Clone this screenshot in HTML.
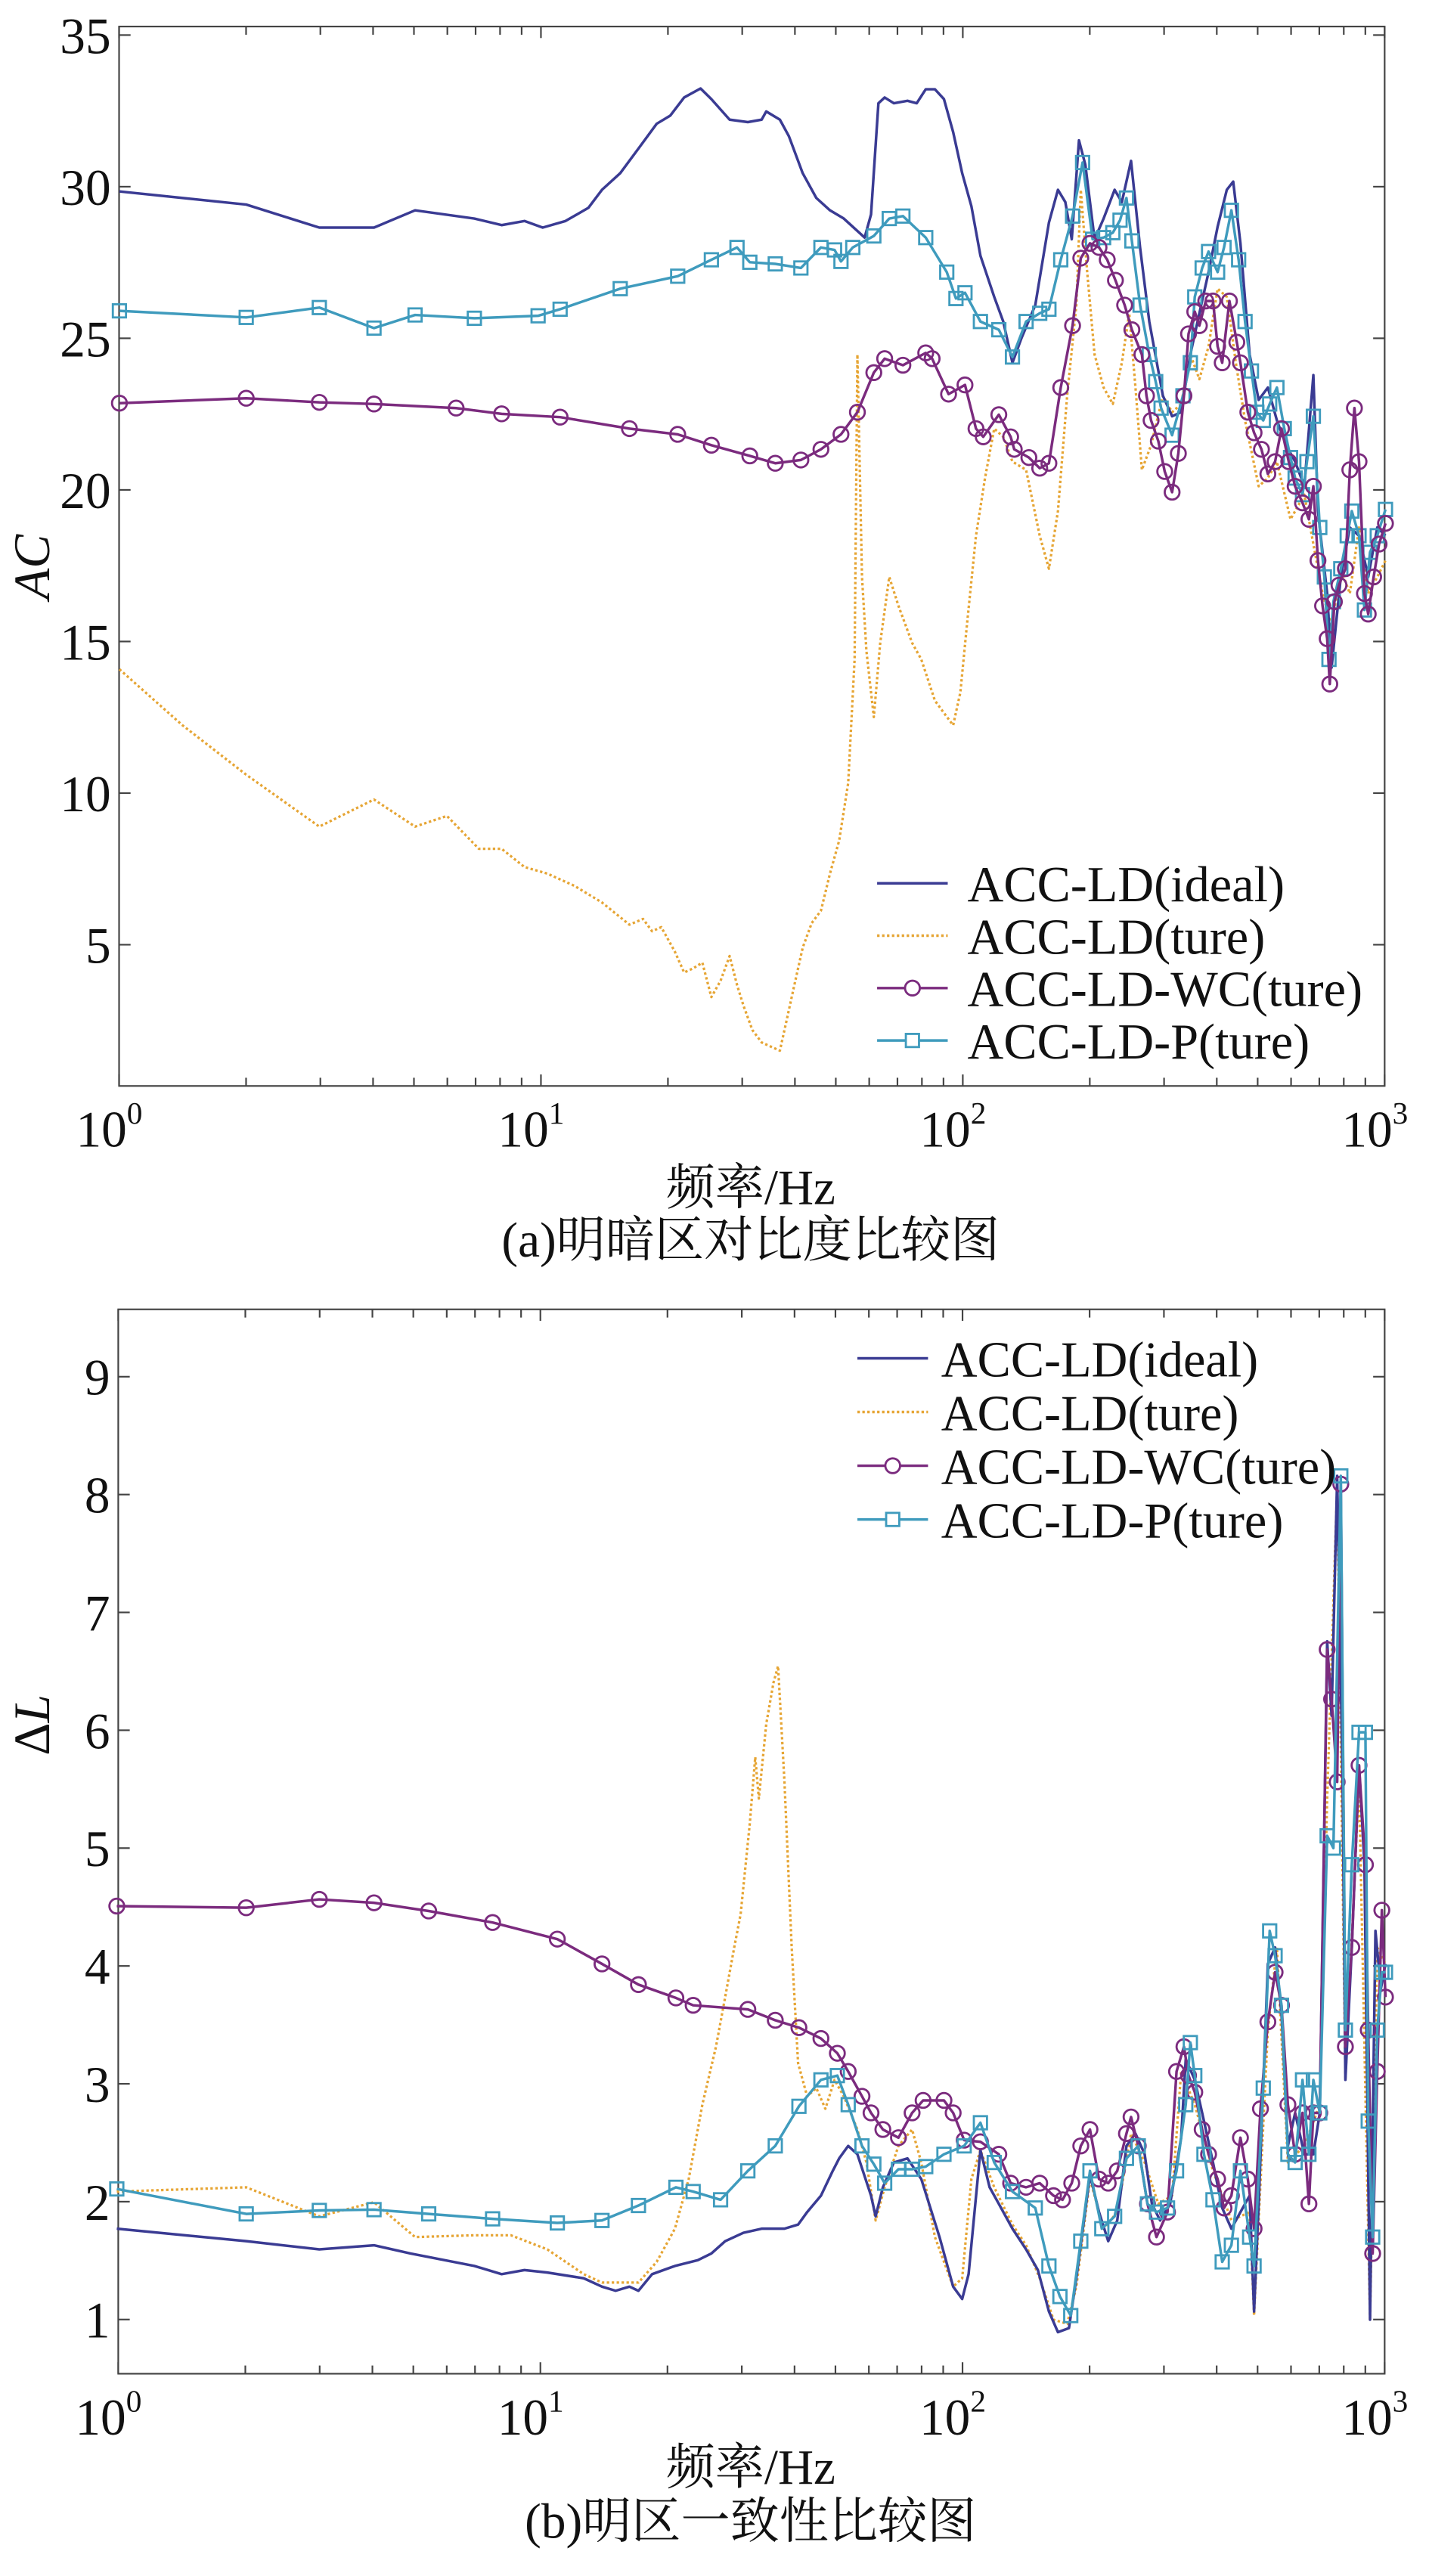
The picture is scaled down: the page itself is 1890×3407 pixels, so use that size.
<!DOCTYPE html>
<html><head><meta charset="utf-8"><style>
html,body{margin:0;padding:0;background:#fff;}
svg{display:block;}
text{font-family:"Liberation Serif","Noto Serif CJK SC",serif;fill:#111;}
</style></head><body>
<svg id="s" width="1890" height="3407" viewBox="0 0 870 1568" xmlns="http://www.w3.org/2000/svg">
<rect width="870" height="1568" fill="#fff"/>
<g id="g"></g>
<text x="30" y="345" font-size="31" font-style="italic" text-anchor="middle" transform="rotate(-90 30 345)">AC</text>
<text x="30" y="1050" font-size="31" text-anchor="middle" transform="rotate(-90 30 1050)">Δ<tspan font-style="italic">L</tspan></text>
<text x="457" y="733" font-size="30" text-anchor="middle">频率/Hz</text>
<text x="457" y="765" font-size="30" text-anchor="middle">(a)明暗区对比度比较图</text>
<text x="457" y="1512" font-size="30" text-anchor="middle">频率/Hz</text>
<text x="457" y="1545" font-size="30" text-anchor="middle">(b)明区一致性比较图</text>
</svg>
<script>
const NS="http://www.w3.org/2000/svg",G=document.getElementById('g');
function el(t,a,txt){const e=document.createElementNS(NS,t);for(const k in a)e.setAttribute(k,a[k]);if(txt!==undefined)e.textContent=txt;G.appendChild(e);return e;}
const C={ideal:"#3a3b93",ture:"#e6a534",wc:"#7b2b7e",p:"#3f9bbd"};
function axes(L,R,T,B,yt){
 el('rect',{x:L,y:T,width:R-L,height:B-T,fill:'none',stroke:'#444',"stroke-width":1});
 const dec=(R-L)/3;
 for(let d=0;d<=3;d++){
  const x=L+d*dec;
  el('line',{x1:x,y1:B,x2:x,y2:B-7,stroke:'#444','stroke-width':1});
  el('line',{x1:x,y1:T,x2:x,y2:T+7,stroke:'#444','stroke-width':1});
  const t=el('text',{x:x-6,y:B+37,'font-size':31,'text-anchor':'middle'},'10');
  const sp=document.createElementNS(NS,'tspan');sp.setAttribute('dy','-14');sp.setAttribute('font-size','19');sp.textContent=d;t.appendChild(sp);
  if(d<3)for(let m=2;m<10;m++){const xm=x+Math.log10(m)*dec;
   el('line',{x1:xm,y1:B,x2:xm,y2:B-5,stroke:'#444','stroke-width':1});
   el('line',{x1:xm,y1:T,x2:xm,y2:T+5,stroke:'#444','stroke-width':1});}
 }
 yt.forEach(([v,y])=>{
  el('line',{x1:L,y1:y,x2:L+7,y2:y,stroke:'#444','stroke-width':1});
  el('line',{x1:R,y1:y,x2:R-7,y2:y,stroke:'#444','stroke-width':1});
  el('text',{x:L-5,y:y+11,'font-size':31,'text-anchor':'end'},v);
 });
}
function pts(a,bot){const r=[];for(let i=0;i<a.length;i+=2){const x=a[i]*0.5553;const y=bot?782.5+a[i+1]*0.5037:a[i+1]*0.5016;r.push([+x.toFixed(1),+y.toFixed(1)]);}return r;}
function series(a,bot,col,dash,mk){
 const p=pts(a,bot);
 const at={points:p.map(q=>q.join(',')).join(' '),fill:'none',stroke:col,'stroke-width':dash?1.5:1.6,'stroke-linejoin':'round'};
 if(dash)at['stroke-dasharray']='1.5,1.5';
 el('polyline',at);
 if(mk)p.forEach((q,i)=>{
  if(mk=='o')el('circle',{cx:q[0],cy:q[1],r:4.5,fill:'none',stroke:col,'stroke-width':1.3});
  else el('rect',{x:q[0]-4,y:q[1]-4,width:8,height:8,fill:'none',stroke:col,'stroke-width':1.3});});
}
function legend(lx1,lx2,tx,rows){
 const n=[["ACC-LD(ideal)",C.ideal,0,null],["ACC-LD(ture)",C.ture,1,null],["ACC-LD-WC(ture)",C.wc,0,'o'],["ACC-LD-P(ture)",C.p,0,'s']];
 n.forEach((s,i)=>{const y=rows[i];
  const a={x1:lx1,y1:y,x2:lx2,y2:y,stroke:s[1],'stroke-width':s[2]?1.6:1.6};if(s[2])a['stroke-dasharray']='1.5,1.5';el('line',a);
  const cx=(lx1+lx2)/2;
  if(s[3]=='o')el('circle',{cx:cx,cy:y,r:4.5,fill:'#fff',stroke:s[1],'stroke-width':1.3});
  if(s[3]=='s')el('rect',{x:cx-4,y:y-4,width:8,height:8,fill:'#fff',stroke:s[1],'stroke-width':1.3});
  el('text',{x:tx,y:y+11,'font-size':30.5},s[0]);});
}
// top plot
const yT=v=>21.2+(35-v)*18.46;
axes(72.5,843,16,661,[35,30,25,20,15,10,5].map(v=>[v,yT(v)]));
series([131,812,200,880,270,940,350,1003,410,970,455,1003,490,990,525,1030,550,1030,575,1052,600,1060,630,1075,660,1095,690,1122,705,1115,715,1130,725,1125,740,1155,750,1180,760,1175,770,1168,780,1210,790,1190,800,1160,808,1195,815,1220,825,1250,835,1265,845,1270,855,1275,862,1240,870,1200,880,1150,890,1120,900,1105,910,1060,920,1020,930,950,937,800,940,430,945,700,950,790,958,870,965,780,975,700,985,735,1000,780,1010,800,1025,850,1035,865,1045,880,1053,840,1060,760,1070,650,1080,580,1090,520,1100,530,1110,560,1125,570,1140,650,1150,690,1160,620,1170,480,1180,370,1185,230,1192,330,1200,430,1210,470,1220,490,1230,440,1238,380,1245,470,1252,570,1262,540,1275,480,1285,500,1295,490,1305,430,1315,460,1325,420,1335,350,1345,360,1355,440,1365,510,1380,590,1390,580,1400,560,1415,630,1430,600,1440,660,1450,720,1460,760,1470,690,1480,720,1490,640,1500,720,1510,700,1519,680],0,C.ture,1);
series([131,232,270,248,350,276,410,276,455,255,520,265,550,273,575,268,595,276,620,268,645,252,660,230,680,210,700,180,720,150,735,140,750,118,768,107,780,120,800,145,820,148,835,145,840,135,855,145,865,165,880,210,895,240,910,255,925,265,935,275,948,288,955,260,963,125,970,118,980,125,995,122,1005,125,1015,108,1025,108,1035,120,1045,160,1055,210,1065,250,1075,310,1090,360,1100,390,1110,440,1120,410,1135,370,1150,270,1160,230,1168,245,1175,290,1183,170,1190,200,1200,290,1210,265,1222,230,1230,245,1240,195,1250,300,1260,390,1275,480,1285,505,1295,500,1305,430,1315,380,1325,330,1335,275,1345,230,1352,220,1360,295,1370,430,1380,485,1390,470,1400,510,1410,540,1420,560,1430,590,1440,455,1445,620,1455,720,1460,810,1470,700,1480,640,1490,650,1500,700,1510,640,1519,650],0,C.ideal,0);
series([131,377,270,385,350,373,410,398,455,382,520,386,590,383,614,375,680,350,743,335,780,315,808,300,822,318,850,320,878,325,900,300,915,303,922,317,935,300,958,286,975,265,990,262,1015,288,1038,330,1048,362,1058,355,1075,390,1095,400,1110,433,1125,390,1140,380,1150,375,1163,315,1176,262,1187,197,1198,290,1210,288,1220,282,1228,267,1235,240,1241,292,1250,370,1260,430,1267,463,1273,495,1285,528,1297,480,1305,440,1310,360,1318,325,1325,305,1335,330,1342,300,1350,255,1358,315,1365,390,1372,450,1378,500,1385,510,1392,490,1400,470,1408,520,1415,555,1420,580,1428,600,1433,560,1440,505,1447,640,1452,700,1457,800,1462,730,1470,690,1477,650,1482,620,1490,650,1496,740,1502,670,1510,650,1519,618],0,C.p,0,'s');
series([131,489,270,483,350,488,410,490,500,495,550,502,614,506,690,520,743,527,780,540,822,553,850,562,878,558,900,545,922,527,940,500,958,452,970,435,990,443,1015,428,1022,435,1040,478,1058,467,1070,520,1078,530,1095,503,1108,530,1112,545,1128,555,1140,568,1150,562,1163,470,1176,395,1185,313,1195,295,1205,300,1214,315,1223,340,1233,370,1241,400,1252,430,1257,480,1262,510,1270,535,1277,572,1285,597,1292,550,1298,480,1303,405,1310,378,1315,395,1322,365,1330,365,1335,420,1340,440,1348,365,1356,415,1360,440,1368,500,1375,525,1383,545,1390,575,1398,560,1405,520,1413,560,1420,590,1428,610,1435,630,1440,590,1445,680,1450,735,1455,775,1458,830,1463,730,1468,710,1475,690,1480,570,1485,495,1490,560,1496,720,1500,745,1506,700,1512,660,1519,635],0,C.wc,0,'o');
legend(534,577,589,[537.6,569.5,601.4,633.3]);
// bottom plot
const yB=v=>838+(9-v)*71.75;
axes(72,843,797,1445,[9,8,7,6,5,4,3,2,1].map(v=>[v,yB(v)]));
series([128,1095,270,1090,350,1125,410,1108,455,1150,520,1148,560,1148,600,1165,640,1195,660,1205,700,1205,720,1180,740,1140,755,1080,770,990,785,920,795,860,805,800,812,760,822,650,828,570,832,620,840,530,848,480,853,460,860,600,868,800,875,940,885,980,895,970,905,995,915,960,925,980,940,1020,950,1060,960,1130,970,1090,985,1040,1000,1020,1010,1060,1025,1150,1045,1210,1055,1200,1065,1080,1075,1045,1090,1090,1110,1135,1125,1160,1140,1200,1155,1250,1170,1255,1180,1210,1195,1080,1210,1140,1225,1120,1240,1025,1255,1060,1270,1110,1285,1100,1295,950,1310,990,1330,1070,1350,1130,1370,1120,1375,1245,1390,900,1400,800,1412,1060,1430,1040,1447,990,1455,620,1466,240,1475,960,1490,600,1502,1250,1510,800,1519,820],1,C.ture,1);
series([128,1140,270,1155,350,1165,410,1160,450,1170,520,1185,550,1195,575,1190,600,1193,640,1200,660,1210,675,1215,690,1210,700,1215,715,1195,740,1185,765,1178,780,1170,795,1155,815,1145,835,1140,860,1140,875,1135,885,1120,900,1100,913,1070,920,1055,930,1040,940,1050,955,1100,960,1125,968,1090,980,1060,995,1055,1010,1080,1030,1150,1045,1210,1055,1225,1062,1195,1075,1045,1085,1090,1095,1110,1110,1140,1125,1165,1138,1190,1150,1240,1160,1265,1172,1260,1180,1200,1195,1075,1205,1120,1215,1155,1225,1130,1235,1040,1245,1025,1255,1050,1263,1110,1272,1130,1283,1110,1295,1030,1300,935,1310,960,1320,1010,1330,1060,1340,1115,1350,1140,1360,1120,1370,1100,1375,1240,1380,1110,1390,820,1398,800,1405,880,1412,1040,1420,1000,1430,1050,1440,1050,1447,1000,1455,430,1460,520,1466,230,1472,600,1475,960,1482,800,1490,580,1496,700,1502,1250,1508,780,1514,850,1519,820],1,C.ideal,0);
series([128,750,270,752,350,742,410,746,470,756,540,770,611,790,660,820,700,845,741,861,760,870,820,875,850,888,876,897,900,910,918,928,930,950,945,980,955,1000,968,1020,985,1030,1000,1000,1012,985,1035,985,1045,1000,1057,1033,1075,1035,1095,1050,1108,1085,1125,1090,1140,1085,1155,1100,1165,1105,1175,1085,1185,1040,1195,1020,1205,1080,1215,1085,1225,1070,1235,1025,1240,1005,1248,1040,1258,1110,1268,1150,1280,1120,1290,950,1298,920,1303,955,1310,975,1318,1020,1325,1050,1335,1080,1342,1115,1350,1100,1360,1030,1368,1080,1375,1140,1382,995,1390,890,1398,830,1405,870,1412,990,1420,1050,1428,1000,1435,1110,1440,1000,1447,1000,1455,440,1460,500,1466,600,1470,240,1475,920,1482,800,1490,580,1497,700,1500,900,1505,1170,1510,950,1515,755,1519,860],1,C.wc,0,'o');
series([128,1092,270,1122,350,1118,410,1117,470,1122,540,1128,611,1133,660,1130,700,1112,741,1090,760,1095,790,1105,820,1070,850,1040,876,992,900,960,918,955,930,990,945,1040,958,1062,970,1085,985,1068,1000,1068,1015,1065,1035,1050,1057,1040,1075,1012,1090,1060,1110,1095,1135,1115,1150,1185,1162,1222,1174,1245,1185,1155,1195,1070,1208,1140,1222,1125,1235,1055,1248,1040,1258,1110,1268,1120,1280,1115,1290,1070,1300,990,1305,915,1310,955,1320,1050,1330,1105,1340,1180,1350,1160,1360,1070,1370,1150,1375,1185,1385,970,1392,780,1398,810,1405,870,1412,1050,1420,1060,1428,960,1435,1050,1440,960,1447,1000,1455,665,1462,680,1470,230,1475,900,1482,700,1490,540,1497,540,1500,1010,1505,1150,1510,900,1515,830,1519,830],1,C.p,0,'s');
legend(522,565,573,[826.8,859.5,892.2,924.9]);
</script>
</body></html>
